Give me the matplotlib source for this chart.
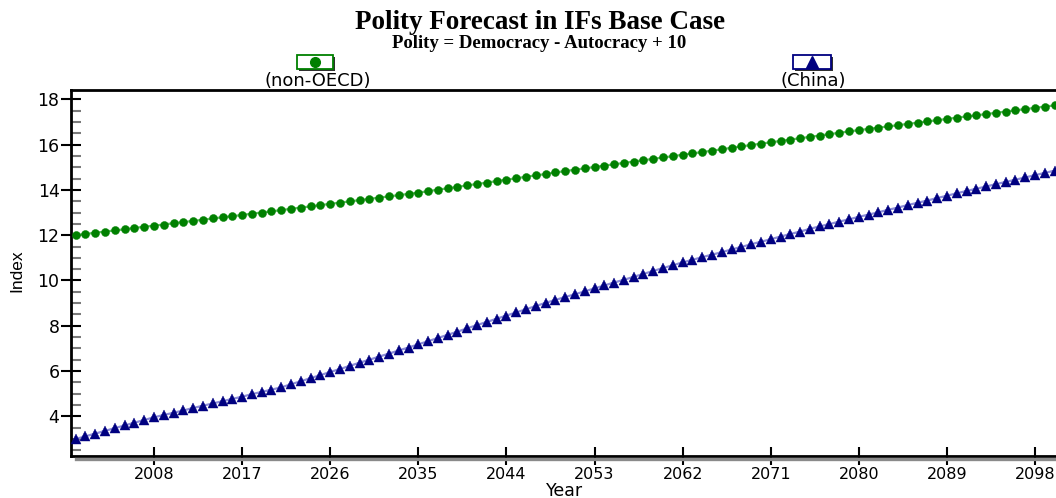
import matplotlib
matplotlib.use("Agg")
import matplotlib.pyplot as plt
from matplotlib.patches import Rectangle
from matplotlib.lines import Line2D
from matplotlib.ticker import MultipleLocator, FixedLocator

years = list(range(2000, 2101))

non_oecd = [
    12.00, 12.05, 12.11, 12.16, 12.21, 12.26, 12.32, 12.37, 12.42, 12.47,
    12.53, 12.58, 12.63, 12.68, 12.74, 12.79, 12.84, 12.89, 12.95, 13.00,
    13.05, 13.11, 13.16, 13.22, 13.27, 13.33, 13.38, 13.44, 13.49, 13.55,
    13.60, 13.66, 13.71, 13.77, 13.82, 13.88, 13.94, 14.01, 14.07, 14.13,
    14.20, 14.26, 14.32, 14.39, 14.45, 14.51, 14.58, 14.64, 14.70, 14.77,
    14.83, 14.89, 14.95, 15.01, 15.07, 15.13, 15.19, 15.25, 15.31, 15.37,
    15.43, 15.49, 15.55, 15.61, 15.67, 15.73, 15.79, 15.86, 15.92, 15.98,
    16.04, 16.10, 16.16, 16.22, 16.28, 16.34, 16.40, 16.46, 16.52, 16.58,
    16.64, 16.69, 16.75, 16.80, 16.86, 16.91, 16.97, 17.02, 17.08, 17.13,
    17.19, 17.24, 17.29, 17.35, 17.40, 17.46, 17.51, 17.57, 17.62, 17.68,
    17.73,
]

china = [
    3.00, 3.12, 3.24, 3.36, 3.48, 3.60, 3.72, 3.84, 3.96,
    4.06, 4.16, 4.26, 4.37, 4.47, 4.57, 4.67, 4.77, 4.87, 4.98, 5.08, 5.18, 5.28,
    5.42, 5.55, 5.69, 5.82, 5.96, 6.09, 6.23, 6.37, 6.50, 6.64, 6.77, 6.91, 7.04, 7.18,
    7.32, 7.46, 7.60, 7.74, 7.89, 8.03, 8.17, 8.31, 8.45, 8.59, 8.73, 8.87, 9.01,
    9.14, 9.27, 9.39, 9.52, 9.65, 9.78, 9.91, 10.03, 10.16, 10.29, 10.42, 10.55, 10.67, 10.80,
    10.91, 11.03, 11.14, 11.25, 11.37, 11.48, 11.60, 11.71, 11.82, 11.94, 12.05, 12.16, 12.28, 12.39,
    12.49, 12.60, 12.70, 12.81, 12.91, 13.01, 13.12, 13.22, 13.33, 13.43, 13.53, 13.64, 13.74, 13.85,
    13.95, 14.05, 14.15, 14.25, 14.35, 14.45, 14.55, 14.65, 14.75, 14.85,
]

x_ticks = [2008, 2017, 2026, 2035, 2044, 2053, 2062, 2071, 2080, 2089, 2098]
y_ticks = [4, 6, 8, 10, 12, 14, 16, 18]
series_labels = ["(non-OECD)", "(China)"]

title = "Polity Forecast in IFs Base Case"
subtitle = "Polity = Democracy - Autocracy + 10"

W, H = 1056, 498
fig = plt.figure(figsize=(W / 100, H / 100), dpi=100)
fig.patch.set_facecolor("white")

def fx(px):
    return px / W

def fy(py):
    return 1 - py / H

ax = fig.add_axes([fx(71), fy(456), 1 - fx(71), (456 - 90) / H])
ax.set_xlim(1999.52, 2100.14)
ax.set_ylim(2.25, 18.41)

green = "#008000"
green_l = "#5cc05c"
navy = "#000080"
navy_l = "#8c8cd8"

ax.plot(years, non_oecd, color=green_l, lw=1.6, zorder=2)
ax.plot(years, non_oecd, linestyle="none", marker="o", markersize=5.8,
        markerfacecolor=green, markeredgecolor=green, markeredgewidth=0.3, zorder=3)
ax.plot(years, china, color=navy_l, lw=1.6, zorder=2)
ax.plot(years, china, linestyle="none", marker="^", markersize=7.5,
        markerfacecolor=navy, markeredgecolor=navy, markeredgewidth=0.3, zorder=3)

ax.spines["right"].set_visible(False)
for s in ["left", "bottom", "top"]:
    ax.spines[s].set_linewidth(2)
    ax.spines[s].set_color("black")

ax.xaxis.set_major_locator(FixedLocator(x_ticks))
ax.set_xticklabels([str(t) for t in x_ticks])
ax.yaxis.set_major_locator(FixedLocator(y_ticks))
ax.set_yticklabels([str(t) for t in y_ticks])
ax.yaxis.set_minor_locator(MultipleLocator(0.5))

ax.tick_params(axis="x", which="major", direction="inout", length=13.5, width=1.5,
               color="black", labelsize=11.5, pad=1.5)
ax.tick_params(axis="y", which="major", direction="inout", length=14.5, width=1.5,
               color="black", labelsize=12.5, pad=1)
ax.tick_params(axis="y", which="minor", direction="in", length=7.2, width=1.5,
               color="#7a7a7a")
for lab in ax.get_xticklabels() + ax.get_yticklabels():
    lab.set_family("DejaVu Sans")

# axis shadow under the x axis
fig.add_artist(Line2D([fx(76), 1.0], [fy(458.5), fy(458.5)], color="#8a8a8a",
                      lw=2.4, zorder=1))

fig.text(fx(17), fy(271), "Index", rotation=90, ha="center", va="center",
         fontsize=12.5, family="Liberation Sans")
fig.text(fx(565), fy(491), "Year", ha="center", va="center",
         fontsize=12.5, family="DejaVu Sans")

fig.text(0.511, fy(29), title, ha="center", va="baseline",
         fontsize=19.5, fontweight="bold", family="Liberation Serif")
fig.text(0.511, fy(47.5), subtitle, ha="center", va="baseline",
         fontsize=13.5, fontweight="bold", family="Liberation Serif")

# legend boxes
def legend_box(x0, x1, y0, y1, edge, marker, msize, text, tx):
    w = fx(x1) - fx(x0)
    h = (y1 - y0) / H
    fig.add_artist(Rectangle((fx(x0) + 2 / W, fy(y1) - 2 / H), w, h,
                             facecolor="#303030", edgecolor="none", zorder=4))
    fig.add_artist(Rectangle((fx(x0), fy(y1)), w, h, facecolor="white",
                             edgecolor=edge, lw=1.3, zorder=5))
    fig.add_artist(Line2D([fx((x0 + x1) / 2)], [fy((y0 + y1) / 2)], marker=marker,
                          markersize=msize, color=edge, markerfacecolor=edge,
                          linestyle="none", zorder=6))
    fig.text(fx(tx), fy(85.5), text, ha="center", va="baseline", fontsize=13,
             family="DejaVu Sans")

legend_box(297, 333, 55, 69, green, "o", 7, series_labels[0], 318)
legend_box(793, 831, 55, 69, navy, "^", 9, series_labels[1], 813)

fig.savefig("out.png", dpi=100, facecolor="white")
